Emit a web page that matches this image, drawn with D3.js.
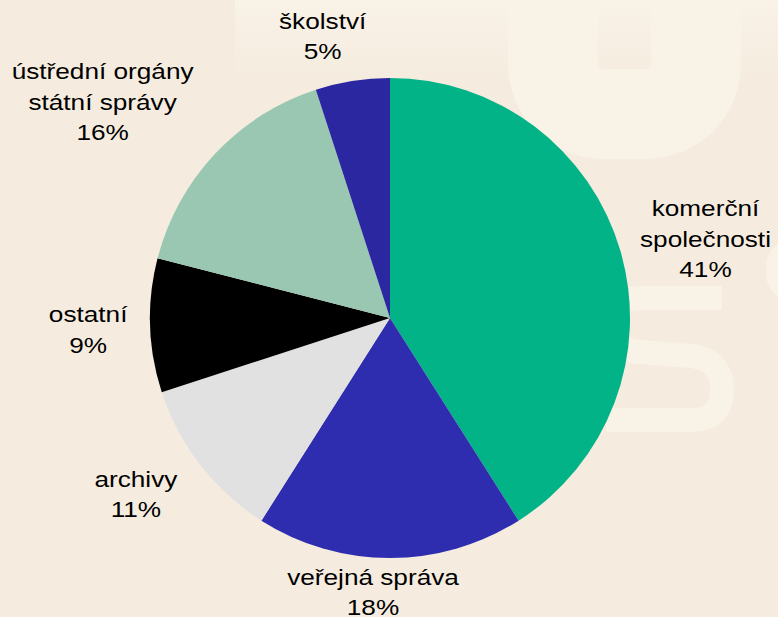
<!DOCTYPE html>
<html>
<head>
<meta charset="utf-8">
<script src="https://cdn.jsdelivr.net/npm/d3@7"></script>
<style>
  html, body { margin: 0; padding: 0; background: #f5ecdf; }
  svg { display: block; }
</style>
</head>
<body>
<script>
// data (clockwise from 12 o'clock)
const categories = ['komerční společnosti', 'veřejná správa', 'archivy', 'ostatní', 'ústřední orgány státní správy', 'školství'];
const shares = [41, 18, 11, 9, 16, 5];
const labelLines = [['komerční', 'společnosti'], ['veřejná správa'], ['archivy'], ['ostatní'], ['ústřední orgány', 'státní správy'], ['školství']];

const svgWidth = 778;
const svgHeight = 617;
const cx = 390, cy = 318, radius = 240;

const colors = d3.scaleOrdinal()
    .domain(categories)
    .range(['#02b388', '#2e2db0', '#e1e1e1', '#000000', '#99c7b2', '#2a27a0']);

// label nudges from the outer centroid (layout only)
const labelRadius = 290;
const nudge = [[37, -21], [-17, -23], [-25, -9], [-12, -5], [-76, -40], [-22, -3]];

const svg = d3.select('body').append('svg')
    .attr('width', svgWidth)
    .attr('height', svgHeight);

svg.append('rect')
    .attr('width', svgWidth)
    .attr('height', svgHeight)
    .attr('fill', '#f5ecdf');

// faint watermark in the background
const defs = svg.append('defs');
const fade = defs.append('linearGradient')
    .attr('id', 'fade').attr('x1', 0).attr('x2', 0).attr('y1', 0).attr('y2', 1);
fade.append('stop').attr('offset', '0%').attr('stop-color', '#f9f2e7').attr('stop-opacity', 1);
fade.append('stop').attr('offset', '100%').attr('stop-color', '#f9f2e7').attr('stop-opacity', 0);

svg.append('rect')
    .attr('x', 235).attr('y', 0).attr('width', svgWidth - 235).attr('height', 80)
    .attr('fill', 'url(#fade)');

const wm = svg.append('g').attr('fill', 'none').attr('stroke', '#f9f2e6');
wm.append('rect')
    .attr('x', 553).attr('y', -60).attr('width', 143).attr('height', 174)
    .attr('rx', 50).attr('stroke-width', 90);
wm.append('path')
    .attr('d', 'M722,298 L640,298 Q612,298 612,324 Q612,350 640,352 L692,356 Q722,360 722,390 Q722,420 692,420 L606,420')
    .attr('stroke-width', 24).attr('stroke-linejoin', 'round');
wm.append('rect')
    .attr('x', 778).attr('y', 252).attr('width', 40).attr('height', 36)
    .attr('rx', 14).attr('stroke-width', 24);

const data = categories.map((c, i) => ({name: c, value: shares[i], lines: labelLines[i]}));

const pie = d3.pie()
    .value(d => d.value)
    .sort(null);

const arc = d3.arc()
    .innerRadius(0)
    .outerRadius(radius);

const labelArc = d3.arc()
    .innerRadius(labelRadius)
    .outerRadius(labelRadius);

const g = svg.append('g')
    .attr('transform', `translate(${cx}, ${cy})`);

const arcs = pie(data);

g.selectAll('path.slice')
    .data(arcs)
    .join('path')
    .attr('class', 'slice')
    .attr('d', arc)
    .attr('fill', d => colors(d.data.name));

// the labels in the original are a bit wider than the font: stretch horizontally
const lineH = 30.5;
const stretch = 1.19;
const labels = g.selectAll('text.lbl')
    .data(arcs)
    .join('text')
    .attr('class', 'lbl')
    .attr('font-family', 'Liberation Sans, Arial, sans-serif')
    .attr('font-size', 22)
    .attr('fill', '#000')
    .attr('text-anchor', 'middle')
    .attr('transform', (d, i) => {
        const p = labelArc.centroid(d);
        return `translate(${p[0] + nudge[i][0]}, ${p[1] + nudge[i][1]}) scale(${stretch}, 1)`;
    });

labels.each(function (d) {
    const t = d3.select(this);
    const rows = d.data.lines.concat([d.data.value + '%']);
    rows.forEach((r, k) => {
        t.append('tspan')
            .attr('x', 0)
            .attr('y', k * lineH)
            .text(r);
    });
});
</script>
</body>
</html>
